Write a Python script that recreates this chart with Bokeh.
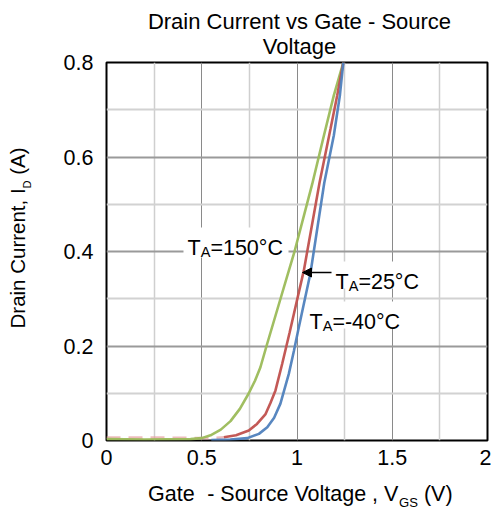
import numpy as np
from bokeh.plotting import figure
from bokeh.models import (Label, FixedTicker, Arrow, NormalHead, BoxAnnotation,
                          Range1d, CustomJSTickFormatter, LinearAxis)
from bokeh.embed import file_html
from bokeh.resources import INLINE

# ---------------- data ----------------
vgs_150 = [0.0, 0.2, 0.441, 0.5, 0.546, 0.6, 0.651, 0.7, 0.747, 0.78, 0.808, 0.84, 0.92, 0.987, 1.08, 1.141, 1.193, 1.243]
id_150 = [0.003, 0.002, 0.003, 0.005, 0.011, 0.023, 0.041, 0.067, 0.1, 0.127, 0.155, 0.2, 0.309, 0.4, 0.543, 0.645, 0.73, 0.8]

vgs_25 = [0.0, 0.3, 0.55, 0.616, 0.68, 0.747, 0.79, 0.835, 0.86, 0.887, 0.922, 0.961, 1.036, 1.119, 1.176, 1.211, 1.243]
id_25 = [0.006, 0.006, 0.005, 0.007, 0.011, 0.021, 0.035, 0.056, 0.079, 0.106, 0.162, 0.228, 0.36, 0.547, 0.66, 0.73, 0.8]

vgs_m40 = [0.55, 0.65, 0.739, 0.8, 0.844, 0.88, 0.913, 0.957, 0.984, 1.006, 1.071, 1.143, 1.193, 1.225, 1.243]
id_m40 = [0.001, 0.002, 0.005, 0.014, 0.028, 0.048, 0.078, 0.141, 0.19, 0.233, 0.355, 0.545, 0.645, 0.73, 0.8]

x_ticks = [0, 0.5, 1, 1.5, 2]
x_minor = [0.25, 0.75, 1.25, 1.75]
y_ticks = [0, 0.2, 0.4, 0.6, 0.8]
y_minor = [0.1, 0.3, 0.5, 0.7]

title_lines = ["Drain Current vs Gate - Source", "Voltage"]
xlabel_main = ["Gate", "- Source Voltage , V", "(V)"]
xlabel_sub = "GS"
ylabel_main = ["Drain Current, I", "(A)"]
ylabel_sub = "D"
ann_150 = [("T", False), ("A", True), ("=150°C", False)]
ann_25 = [("T", False), ("A", True), ("=25°C", False)]
ann_m40 = [("T", False), ("A", True), ("=-40°C", False)]

GREEN = "#9BBB59"
RED = "#C0504D"
BLUE = "#4F81BD"
FONT = "Liberation Sans"
FS = 21.5
SUB = 0.68

# ---------------- layout ----------------
W, H = 491, 512
FL, FR, FT, FB = 106, 487, 62, 440
X0, X1 = 0.0, 2.0
Y0, Y1 = 0.0, 0.8

AW = {' ': 278, '(': 333, ')': 333, ',': 278, '-': 333, '.': 278, '=': 584, '°': 400,
      'A': 667, 'C': 722, 'D': 722, 'G': 778, 'I': 278, 'S': 667, 'T': 611, 'V': 667,
      'a': 556, 'c': 500, 'e': 556, 'g': 556, 'i': 222, 'l': 222, 'n': 556, 'o': 556,
      'r': 333, 's': 500, 't': 278, 'u': 556, 'v': 500}


def tw(s, size):
    return sum(AW.get(c, 556) for c in s) / 1000.0 * size


def px2x(px):
    return X0 + (px - FL) / (FR - FL) * (X1 - X0)


def px2y(py):
    return Y0 + (FB - py) / (FB - FT) * (Y1 - Y0)


p = figure(width=W, height=H, output_backend="svg", toolbar_location=None,
           x_range=Range1d(X0, X1), y_range=Range1d(Y0, Y1),
           min_border_left=FL, min_border_right=W - FR,
           min_border_top=FT, min_border_bottom=H - FB)
p.background_fill_color = "white"
p.border_fill_color = "white"
p.outline_line_color = "black"
p.outline_line_width = 2
# pixel-space ranges used only to place the off-frame texts
p.extra_x_ranges = {"px": Range1d(FL, FR)}
p.extra_y_ranges = {"py": Range1d(FB, FT)}

fmt = CustomJSTickFormatter(code="return tick.toString();")
p.xaxis.ticker = FixedTicker(ticks=x_ticks, minor_ticks=x_minor)
p.yaxis.ticker = FixedTicker(ticks=y_ticks, minor_ticks=y_minor)


def plain_axis(ax, size):
    ax.axis_line_color = None
    ax.major_tick_line_color = None
    ax.minor_tick_line_color = None
    ax.major_tick_out = 0
    ax.major_tick_in = 0
    ax.minor_tick_out = 0
    ax.minor_tick_in = 0
    ax.major_label_text_font = FONT
    ax.major_label_text_font_size = f"{size:.1f}px"
    ax.major_label_text_color = "black"


for ax in (p.xaxis[0], p.yaxis[0]):
    ax.formatter = fmt
    plain_axis(ax, FS)
p.xaxis.major_label_standoff = 9
p.yaxis.major_label_standoff = 13


def text_axis(place, positions, texts, size, standoff, vertical=False):
    if place in ("above", "below"):
        ax = LinearAxis(x_range_name="px")
    else:
        ax = LinearAxis(y_range_name="py")
    ax.ticker = FixedTicker(ticks=sorted(positions), minor_ticks=[])
    ax.formatter = CustomJSTickFormatter(
        args=dict(pos=list(positions), txt=list(texts)),
        code="let b = 0; for (let i = 0; i < pos.length; i++) {"
             " if (Math.abs(pos[i] - tick) < Math.abs(pos[b] - tick)) b = i; }"
             " return txt[b];")
    plain_axis(ax, size)
    ax.major_label_standoff = standoff
    if vertical:
        ax.major_label_orientation = "vertical"
    p.add_layout(ax, place)
    return ax


# ---- title (two lines above the frame) ----
TFS = 22.0
TCX = 299
text_axis("above", [TCX], [title_lines[1]], TFS, 4)
text_axis("above", [TCX], [title_lines[0]], TFS, -3)

# ---- x axis label with subscript ----
XSUB = 13.1
xs = 147.5
gw = tw("Gate", FS)
c_gate = xs + gw / 2
x2 = xs + gw + tw("  ", FS)
w2 = tw(xlabel_main[1], FS)
c_mid = x2 + w2 / 2
x3 = x2 + w2
w3 = tw(xlabel_sub, XSUB)
c_sub = x3 + w3 / 2
x4 = x3 + w3 + tw(" ", FS)
c_v = x4 + tw(xlabel_main[2], FS) / 2
text_axis("below", [c_gate, c_mid, c_v], xlabel_main, FS, 14)
text_axis("below", [c_sub], [xlabel_sub], XSUB, -14)

# ---- y axis label with subscript (reads bottom to top) ----
YFS = 20.5
YSUB = 11.0
ys = 328.0
w1 = tw(ylabel_main[0], YFS)
c1 = ys - w1 / 2
wd = tw(ylabel_sub, YSUB)
cd = ys - w1 - wd / 2
c3 = ys - w1 - wd - tw(" ", YFS) - tw(ylabel_main[1], YFS) / 2
text_axis("left", [cd], [ylabel_sub], YSUB, 27, vertical=True)
text_axis("left", [c1, c3], ylabel_main, YFS, -11, vertical=True)

# ---- grid ----
p.xgrid.grid_line_color = "#8a8a8a"
p.xgrid.grid_line_width = 1
p.xgrid.minor_grid_line_color = "#cfcfcf"
p.xgrid.minor_grid_line_width = 1.5
p.ygrid.grid_line_color = "#9a9a9a"
p.ygrid.grid_line_width = 2
p.ygrid.minor_grid_line_color = "#d2d2d2"
p.ygrid.minor_grid_line_width = 2

# white boxes behind the in-plot annotations
for (l, r, t, b) in [(183, 288, 227, 257), (333, 421, 261, 288), (306, 402, 301, 328)]:
    p.add_layout(BoxAnnotation(left=px2x(l), right=px2x(r), top=px2y(t), bottom=px2y(b),
                               fill_color="white", fill_alpha=1.0, line_color=None,
                               level="underlay"))

# 25 °C: the flat part near zero is faint and broken in the reference
n_flat = 3
p.line(vgs_25[:n_flat + 1], id_25[:n_flat + 1], line_color="#E6A0A0", line_width=2.6,
       line_alpha=0.7, line_dash="14 8")
p.line(vgs_150, id_150, line_color=GREEN, line_width=2.6, line_alpha=0.95)
p.line(vgs_25[n_flat:], id_25[n_flat:], line_color=RED, line_width=2.6, line_alpha=0.95)
p.line(vgs_m40, id_m40, line_color=BLUE, line_width=2.6, line_alpha=0.95)


def rich(parts, x_px, base_px, size):
    pos = 0.0
    for txt, sub in parts:
        fs = size * SUB if sub else size
        dy = size * 0.22 if sub else 0.0
        p.add_layout(Label(x=px2x(x_px + pos), y=px2y(base_px + dy), text=txt,
                           text_font=FONT, text_font_size=f"{fs:.1f}px",
                           text_color="black", text_baseline="alphabetic",
                           text_align="left"))
        pos += tw(txt, fs)


rich(ann_150, 187, 247, FS)
rich(ann_25, 335, 281, FS)
rich(ann_m40, 309, 321, FS)

p.add_layout(Arrow(end=NormalHead(size=9, fill_color="black", line_color="black"),
                   x_start=px2x(331), y_start=px2y(272), x_end=px2x(302), y_end=px2y(272),
                   line_color="black", line_width=1.6))

open("out.html", "w").write(file_html(p, INLINE))
